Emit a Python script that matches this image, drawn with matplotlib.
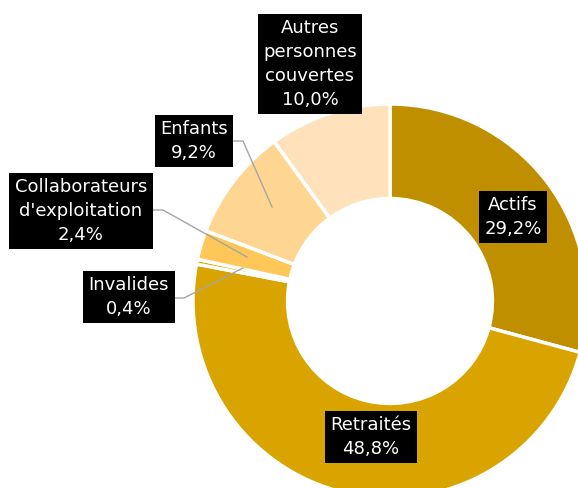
import matplotlib
matplotlib.use("Agg")
import matplotlib.pyplot as plt

categories = ["Actifs", "Retraités", "Invalides", "Collaborateurs\nd'exploitation", "Enfants", "Autres\npersonnes\ncouvertes"]
values = [29.2, 48.8, 0.4, 2.4, 9.2, 10.0]
colors = ["#BF8F00", "#DAA400", "#E3AA00", "#FFC658", "#FFD592", "#FFE1BB"]
value_labels = ["29,2%", "48,8%", "0,4%", "2,4%", "9,2%", "10,0%"]

W, H = 578, 488
fig = plt.figure(figsize=(W / 100, H / 100), dpi=100)
ax = fig.add_axes([0, 0, 1, 1])

cx, cy, R = 390, H - 301, 197
ax.pie(values, colors=colors, startangle=90, counterclock=False,
       center=(cx, cy), radius=R, frame=True,
       wedgeprops=dict(width=R * 0.48, edgecolor="white", linewidth=2.5))
ax.set_xlim(0, W)
ax.set_ylim(0, H)
ax.axis("off")

# label positions (pixels from top-left)
label_pos = [(513, 217), (371, 437), (129, 297), (81, 211), (194, 141), (310, 64)]
leaders = {
    2: [(175, 298), (184, 298), (243, 268)],
    3: [(152, 210), (163, 210), (247, 257)],
    4: [(234, 141), (243, 141), (272, 207)],
}
for i, (name, lab) in enumerate(zip(categories, value_labels)):
    x, y = label_pos[i]
    ax.text(x, H - y, f"{name}\n{lab}", ha="center", va="center",
            color="white", fontsize=13, family="DejaVu Sans", linespacing=1.42,
            bbox=dict(boxstyle="square,pad=0.3", fc="black", ec="none"), zorder=5)
for i, pts in leaders.items():
    xs = [p[0] for p in pts]
    ys = [H - p[1] for p in pts]
    ax.plot(xs, ys, color="#A6A6A6", lw=1, zorder=4)

fig.savefig("out.png", dpi=100)
